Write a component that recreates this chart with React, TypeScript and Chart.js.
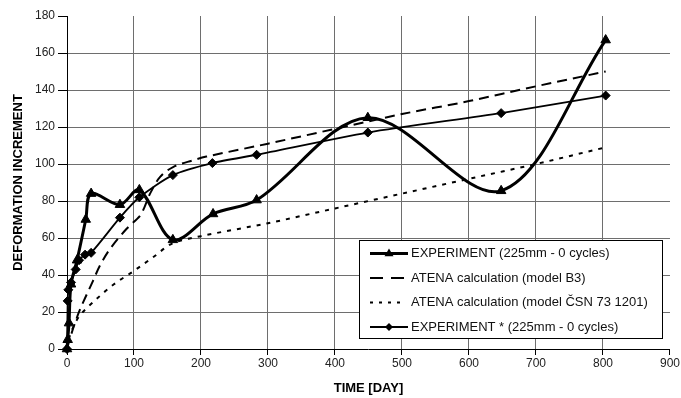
import React, { useEffect, useRef } from "react";
import { Chart, registerables } from "chart.js";

Chart.register(...registerables);

// ---- axis ticks ----
const xTickValues = [0, 100, 200, 300, 400, 500, 600, 700, 800, 900];
const yTickValues = [0, 20, 40, 60, 80, 100, 120, 140, 160, 180];
const xTitle = "TIME [DAY]";
const yTitle = "DEFORMATION INCREMENT";

// ---- series ----
const expLabel = "EXPERIMENT (225mm - 0 cycles)";
const expDays = [0, 1, 3, 6, 15, 28, 36, 79, 108, 158, 218, 283, 449, 648, 804];
const expValues = [0, 5, 14, 35, 48, 70, 84, 78, 86, 59, 73, 80.5, 125, 85.5, 167];

const b3Label = "ATENA calculation (model B3)";
const b3Days = [0, 3, 10, 19, 39, 49, 64, 89, 109, 116, 124, 139, 159, 188, 208, 300, 400, 500, 600, 700, 804];
const b3Values = [0, 4, 12, 21, 37, 45, 54, 65, 72, 77, 84, 93, 98.5, 102, 104, 111, 119, 127, 134, 142, 150];

const csnLabel = "ATENA calculation (model ČSN 73 1201)";
const csnDays = [0, 2, 7, 19, 44, 70, 99, 130, 157, 200, 300, 400, 500, 600, 700, 804];
const csnValues = [0, 4, 10, 18, 27, 35, 42, 50, 57, 61, 68, 76, 84, 92, 100, 109];

const exp2Label = "EXPERIMENT * (225mm - 0 cycles)";
const exp2Days = [0, 1, 2, 6, 13, 18, 27, 36, 79, 108, 158, 217, 283, 449, 648, 804];
const exp2Values = [0, 26, 32, 36, 43, 48, 51, 52, 71, 82, 94, 100.5, 105, 117, 127.5, 137];

const FONT = "'Liberation Sans', Arial, Helvetica, sans-serif";

function pts(xs: number[], ys: number[]) {
  return xs.map((x, i) => ({ x, y: ys[i] }));
}

const legendPlugin = {
  id: "boxLegend",
  afterDraw(chart: any) {
    const ctx: CanvasRenderingContext2D = chart.ctx;
    const ds = chart.data.datasets;
    const left = 359.5, top = 240.5, w = 303, h = 98;
    ctx.save();
    ctx.fillStyle = "#ffffff";
    ctx.fillRect(left, top, w, h);
    ctx.strokeStyle = "#000";
    ctx.lineWidth = 1;
    ctx.setLineDash([]);
    ctx.strokeRect(left, top, w, h);
    const rowY = [253.5, 278, 302.5, 327];
    const sx0 = 370, sx1 = 408;
    ds.forEach((d: any, i: number) => {
      const y = rowY[i];
      ctx.save();
      ctx.strokeStyle = "#000";
      ctx.lineWidth = d.borderWidth;
      if (d.borderDash && d.borderDash.length) {
        if (i === 1) ctx.setLineDash([13, 8]);
        else ctx.setLineDash([3, 6]);
      } else ctx.setLineDash([]);
      ctx.beginPath();
      ctx.moveTo(sx0, y);
      ctx.lineTo(i === 2 ? 401 : i === 1 ? 405 : sx1, y);
      ctx.stroke();
      ctx.setLineDash([]);
      const cx = (sx0 + sx1) / 2;
      ctx.fillStyle = "#000";
      if (d.pointStyle === "triangle") {
        const r = 5;
        ctx.beginPath();
        ctx.moveTo(cx, y - r);
        ctx.lineTo(cx + r * 0.9, y + r * 0.55);
        ctx.lineTo(cx - r * 0.9, y + r * 0.55);
        ctx.closePath();
        ctx.fill();
      } else if (d.pointStyle === "rectRot") {
        const r = 4;
        ctx.beginPath();
        ctx.moveTo(cx, y - r);
        ctx.lineTo(cx + r, y);
        ctx.lineTo(cx, y + r);
        ctx.lineTo(cx - r, y);
        ctx.closePath();
        ctx.fill();
      }
      ctx.restore();
      ctx.fillStyle = "#111";
      ctx.font = `13px ${FONT}`;
      ctx.textBaseline = "middle";
      ctx.textAlign = "left";
      ctx.fillText(d.label, 411, y);
    });
    ctx.restore();
  },
};

export default function App() {
  const canvasRef = useRef<HTMLCanvasElement | null>(null);

  useEffect(() => {
    if (!canvasRef.current) return;
    const gridColor = (edgeA: number, edgeB: number) => (c: any) =>
      c.tick && (c.tick.value === edgeA || c.tick.value === edgeB) ? "rgba(0,0,0,0)" : "#6e6e6e";

    const chart = new Chart(canvasRef.current, {
      type: "scatter",
      data: {
        datasets: [
          {
            label: expLabel,
            data: pts(expDays, expValues),
            showLine: true,
            borderColor: "#000",
            backgroundColor: "#000",
            borderWidth: 3,
            tension: 0.33,
            pointStyle: "triangle",
            pointRadius: 5.5,
            pointBorderWidth: 1,
            clip: false,
            order: 1,
          },
          {
            label: b3Label,
            data: pts(b3Days, b3Values),
            showLine: true,
            borderColor: "#000",
            backgroundColor: "#000",
            borderWidth: 2,
            borderDash: [10, 6],
            tension: 0.33,
            pointRadius: 0,
            clip: false,
            order: 3,
          },
          {
            label: csnLabel,
            data: pts(csnDays, csnValues),
            showLine: true,
            borderColor: "#000",
            backgroundColor: "#000",
            borderWidth: 2,
            borderDash: [4, 6],
            tension: 0.33,
            pointRadius: 0,
            clip: false,
            order: 4,
          },
          {
            label: exp2Label,
            data: pts(exp2Days, exp2Values),
            showLine: true,
            borderColor: "#000",
            backgroundColor: "#000",
            borderWidth: 1.8,
            tension: 0.25,
            pointStyle: "rectRot",
            pointRadius: 4.5,
            pointBorderWidth: 1,
            clip: false,
            order: 2,
          },
        ],
      },
      options: {
        responsive: false,
        animation: false,
        devicePixelRatio: 1,
        layout: { padding: { top: 16, right: 11, bottom: 0, left: 0 } },
        plugins: {
          legend: { display: false },
          tooltip: { enabled: false },
        },
        scales: {
          x: {
            type: "linear",
            min: 0,
            max: 900,
            afterBuildTicks: (s: any) => {
              s.ticks = xTickValues.map((v) => ({ value: v }));
            },
            afterFit: (s: any) => {
              s.height = 49;
            },
            ticks: {
              color: "#222",
              font: { family: FONT, size: 12 },
              padding: 1,
              maxRotation: 0,
            },
            grid: {
              color: gridColor(0, 900),
              tickColor: "#000",
              tickLength: 6,
              lineWidth: 1,
              tickWidth: 1,
            },
            border: { color: "#000", width: 1 },
            title: {
              display: true,
              text: xTitle,
              color: "#000",
              font: { family: FONT, size: 13, weight: "bold" },
              padding: { top: 0, bottom: 2 },
            },
          },
          y: {
            type: "linear",
            min: 0,
            max: 180,
            afterBuildTicks: (s: any) => {
              s.ticks = yTickValues.map((v) => ({ value: v }));
            },
            afterFit: (s: any) => {
              s.width = 67;
            },
            ticks: {
              color: "#222",
              font: { family: FONT, size: 12 },
              padding: 3,
            },
            grid: {
              color: gridColor(0, 180),
              tickColor: "#000",
              tickLength: 9,
              lineWidth: 1,
              tickWidth: 1,
            },
            border: { color: "#000", width: 1 },
            title: {
              display: true,
              text: yTitle,
              color: "#000",
              font: { family: FONT, size: 13, weight: "bold" },
              padding: { top: 11, bottom: 0 },
            },
          },
        },
      },
      plugins: [legendPlugin],
    } as any);

    return () => chart.destroy();
  }, []);

  return (
    <div style={{ position: "absolute", left: 0, top: 0, width: 681, height: 398, background: "#fff" }}>
      <canvas ref={canvasRef} width={681} height={398} style={{ display: "block" }} />
    </div>
  );
}
